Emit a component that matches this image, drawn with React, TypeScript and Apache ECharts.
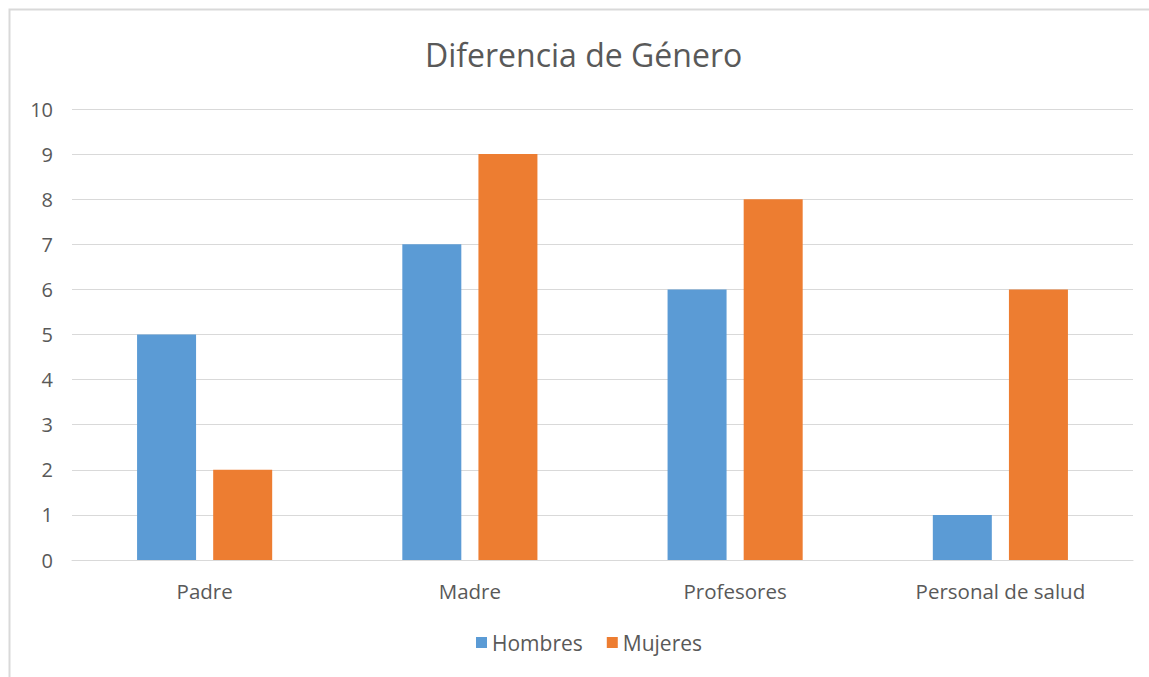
import React, { useEffect, useRef } from "react";
import * as echarts from "echarts";

const categories = ["Padre", "Madre", "Profesores", "Personal de salud"];
const hombres = [5, 7, 6, 1];
const mujeres = [2, 9, 8, 6];
const seriesNames = ["Hombres", "Mujeres"];
const chartTitle = "Diferencia de Género";

const FONT = "'Open Sans', 'Noto Sans', sans-serif";
const TEXT = "#595959";

export default function App() {
  const ref = useRef<HTMLDivElement>(null);

  useEffect(() => {
    if (!ref.current) return;
    const chart = echarts.init(ref.current, undefined, { renderer: "svg" });
    chart.setOption({
      animation: false,
      backgroundColor: "#ffffff",
      textStyle: { fontFamily: FONT },
      title: {
        text: chartTitle,
        left: 425,
        top: 38,
        padding: 0,
        textStyle: { fontFamily: FONT, fontSize: 32, fontWeight: "normal", color: TEXT },
      },
      graphic: [
        {
          type: "rect",
          shape: { x: 9.5, y: 9.5, width: 1300, height: 800 },
          style: { fill: "none", stroke: "#d9d9d9", lineWidth: 2 },
          silent: true,
        },
      ],
      legend: {
        data: seriesNames,
        left: 476,
        top: 632,
        icon: "rect",
        itemWidth: 11,
        itemHeight: 11,
        itemGap: 24,
        padding: 0,
        textStyle: { fontFamily: FONT, fontSize: 21, color: TEXT },
      },
      grid: { left: 72, right: 16, top: 109, bottom: 117, containLabel: false },
      xAxis: {
        type: "category",
        data: categories,
        axisLine: { show: true, lineStyle: { color: "#d9d9d9", width: 1 } },
        axisTick: { show: false },
        axisLabel: { fontFamily: FONT, fontSize: 20.5, color: TEXT, margin: 20 },
      },
      yAxis: {
        type: "value",
        min: 0,
        max: 10,
        interval: 1,
        axisLine: { show: false },
        axisTick: { show: false },
        splitLine: { lineStyle: { color: "#d9d9d9", width: 1 } },
        axisLabel: { fontFamily: FONT, fontSize: 20, color: TEXT, margin: 19 },
      },
      series: [
        {
          name: seriesNames[0],
          type: "bar",
          data: hombres,
          barWidth: 59,
          barGap: "29%",
          itemStyle: { color: "#5B9BD5" },
        },
        {
          name: seriesNames[1],
          type: "bar",
          data: mujeres,
          barWidth: 59,
          itemStyle: { color: "#ED7D31" },
        },
      ],
    });
    return () => chart.dispose();
  }, []);

  return (
    <div
      ref={ref}
      style={{ position: "absolute", left: 0, top: 0, width: 1149, height: 677 }}
    />
  );
}
